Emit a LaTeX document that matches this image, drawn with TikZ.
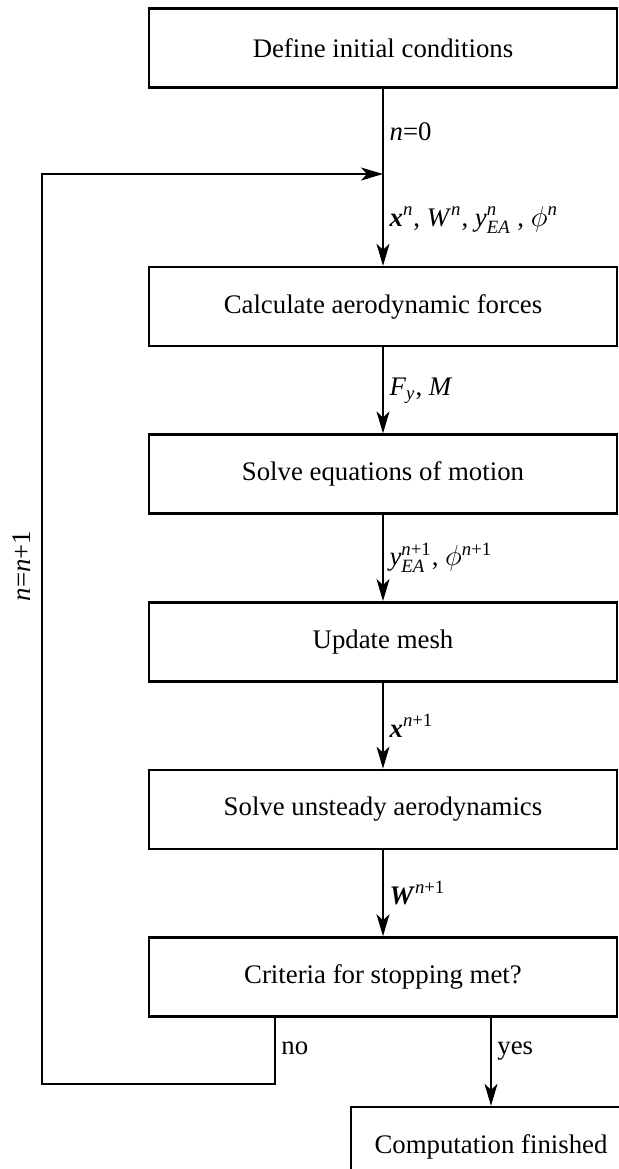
\documentclass[tikz,border=0pt]{standalone}
\usepackage{amsmath}
\usepackage{fontspec}
\setmainfont{Liberation Serif}
\usetikzlibrary{arrows.meta,positioning}
\newcommand{\vi}[1]{\textit{#1}}
\newcommand{\vb}[1]{\textbf{\textit{#1}}}
\newcommand{\flowfont}{\fontsize{13.4}{16}\selectfont}
\tikzset{
  procbox/.style={draw, line width=1.3pt, minimum width=234pt, minimum height=39.5pt, inner sep=0pt, align=center, font=\flowfont},
  endbox/.style={procbox, minimum width=140pt},
  flow/.style={line width=0.6pt},
  flowarrow/.style={flow, -{Stealth[length=11pt, width=6.5pt, inset=3pt]}},
  edgelbl/.style={font=\flowfont, inner sep=3pt}
}
\begin{document}
\begin{tikzpicture}[x=0.5pt, y=-0.5pt, node distance=43pt]
  \useasboundingbox (0,0) rectangle (619,1169);
  \clip (0,0) rectangle (619,1169);
  \node[procbox] (A) at (383,48) {Define initial conditions};
  \node[procbox, below=88.5pt of A] (B) {Calculate aerodynamic forces};
  \node[procbox, below=of B] (C) {Solve equations of motion};
  \node[procbox, below=of C] (D) {Update mesh};
  \node[procbox, below=of D] (E) {Solve unsteady aerodynamics};
  \node[procbox, below=of E] (F) {Criteria for stopping met?};
  \node[endbox, below=44pt of F, xshift=54pt] (G) {Computation finished};
  \coordinate (loopin) at (A.south |- 0,174);
  \node[edgelbl, rotate=90] (loopl) at (22,566) {\vi{n}=\vi{n}+1};

  \draw[flow] (A) -- (loopin) node[edgelbl, midway, right] (l0) {\vi{n}=0};
  \draw[flowarrow] (loopin) -- (B) node[edgelbl, midway, right] (l1)
    {$\vb{x}^{\vi{n}}$, \vi{W}$^{\vi{n}}$, $\vi{y}^{\vi{n}}_{\vi{EA}}$ , $\phi^{\vi{n}}$};
  \draw[flowarrow] (B) -- (C) node[edgelbl, midway, right] (l2) {\vi{F}$_{\vi{y}}$, \vi{M}};
  \draw[flowarrow] (C) -- (D) node[edgelbl, midway, right] (l3)
    {$\vi{y}^{\vi{n}\textup{+1}}_{\vi{EA}}$, $\phi^{\vi{n}\textup{+1}}$};
  \draw[flowarrow] (D) -- (E) node[edgelbl, midway, right] (l4) {$\vb{x}^{\vi{n}\textup{+1}}$};
  \draw[flowarrow] (E) -- (F) node[edgelbl, midway, right] (l5) {$\vb{W}^{\vi{n}\textup{+1}}$};
  \draw[flowarrow] (F.south -| G.north) -- (G.north);
  \draw[flowarrow] ([xshift=-54pt]F.south) |- (42,1084) |- (loopin);
  \node[edgelbl, anchor=base west] (lno) at ([xshift=-54pt]F.south |- 0,1054) {no};
  \node[edgelbl, anchor=base west] (lyes) at (G.north |- 0,1054) {yes};
\end{tikzpicture}
\end{document}
